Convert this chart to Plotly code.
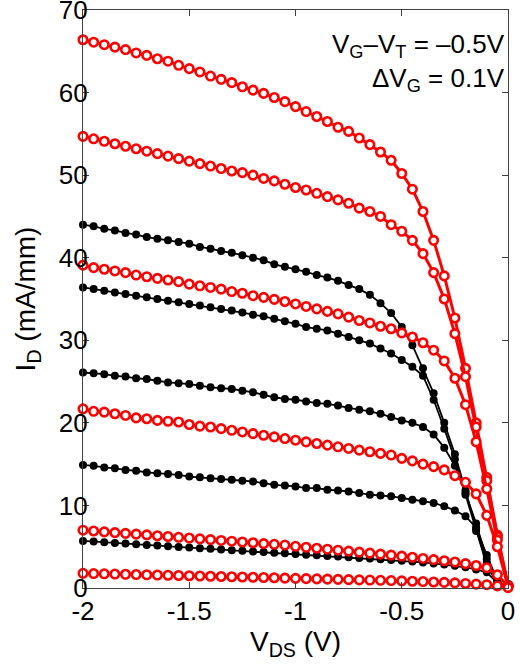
import plotly.graph_objects as go

# V_DS sweep (V): -2 to 0 in 0.05 V steps
vds = [-2.0, -1.95, -1.9, -1.85, -1.8, -1.75, -1.7, -1.65, -1.6, -1.55,
       -1.5, -1.45, -1.4, -1.35, -1.3, -1.25, -1.2, -1.15, -1.1, -1.05,
       -1.0, -0.95, -0.9, -0.85, -0.8, -0.75, -0.7, -0.65, -0.6, -0.55,
       -0.5, -0.45, -0.4, -0.35, -0.3, -0.25, -0.2, -0.15, -0.1, -0.05, 0.0]

# red curves (open markers), I_D in mA/mm
red_1 = [66.4, 66.1, 65.8, 65.5, 65.2, 64.8, 64.5, 64.1, 63.8, 63.3, 62.9, 62.5, 62.0, 61.6, 61.2, 60.7, 60.3,
         59.9, 59.4, 58.9, 58.3, 57.7, 57.1, 56.5, 55.8, 55.3, 54.5, 53.7, 52.8, 51.8, 50.2, 48.3,
         45.6, 42.1, 37.8, 32.7, 26.6, 20.0, 13.4, 6.4, 0.3]
red_2 = [54.7, 54.4, 54.1, 53.8, 53.5, 53.2, 52.9, 52.6, 52.3, 52.0, 51.7, 51.4, 51.1, 50.8, 50.5, 50.3, 50.0,
         49.6, 49.3, 48.9, 48.5, 48.2, 47.8, 47.4, 47.0, 46.6, 46.0, 45.6, 45.0, 44.0, 43.2, 42.1,
         40.5, 38.2, 35.0, 30.8, 25.6, 19.5, 13.0, 6.2, 0.3]
red_3 = [39.1, 38.8, 38.6, 38.4, 38.2, 37.9, 37.7, 37.5, 37.3, 37.1, 36.8, 36.6, 36.4, 36.2, 35.9, 35.7, 35.4,
         35.2, 34.96, 34.7, 34.4, 34.1, 33.8, 33.5, 33.2, 32.8, 32.4, 32.1,
         31.7, 31.4, 30.9, 30.4, 29.7, 28.8, 27.5, 25.4, 22.2, 17.7, 12.0, 5.8, 0.3]
red_4 = [21.7, 21.4, 21.3, 21.1, 20.9, 20.6, 20.5, 20.3, 20.2, 20.1, 19.8, 19.6, 19.5, 19.3, 19.1, 18.9, 18.7,
         18.5, 18.3, 18.1, 17.9, 17.7, 17.5, 17.3, 17.1, 16.9, 16.7, 16.5, 16.3, 16.1, 15.7, 15.4, 15.0,
         14.7, 14.3, 13.6, 12.8, 11.4, 8.8, 5.0, 0.2]
red_5 = [7.0, 6.9, 6.8, 6.71, 6.62, 6.52, 6.43, 6.33, 6.24, 6.14, 6.05, 5.95, 5.86, 5.76, 5.67, 5.57, 5.48, 5.38, 5.29,
         5.2, 5.05, 4.93, 4.81, 4.7, 4.58, 4.46, 4.34, 4.22, 4.1, 3.98, 3.86, 3.72, 3.58, 3.44, 3.3, 3.15, 2.95,
         2.72, 2.45, 1.6, 0.2]
red_6 = [1.78, 1.75, 1.72, 1.69, 1.66, 1.63, 1.6, 1.57, 1.54, 1.51, 1.48, 1.45, 1.42, 1.39, 1.36, 1.33, 1.3, 1.27,
         1.24, 1.2, 1.17, 1.14, 1.11, 1.08, 1.05, 1.02, 0.99, 0.96, 0.93, 0.9, 0.86, 0.82, 0.78, 0.73, 0.68, 0.62,
         0.55, 0.47, 0.4, 0.25, 0.05]

# black curves (filled markers)
black_1 = [44.0, 43.8, 43.5, 43.3, 43.0, 42.8, 42.5, 42.3, 42.1, 41.9, 41.7, 41.3, 41.1, 40.8, 40.6, 40.3, 40.0,
           39.7, 39.2, 38.9, 38.6, 38.3, 37.9, 37.6, 37.2, 36.7, 36.2, 35.5, 34.5, 33.3, 31.6, 29.4,
           26.6, 23.6, 20.0, 16.2, 11.8, 7.2, 3.0, 0.6, 0.0]
black_2 = [36.4, 36.2, 36.0, 35.8, 35.6, 35.4, 35.2, 35.0, 34.8, 34.6, 34.4, 34.2, 34.0, 33.8, 33.6, 33.35, 33.1,
           32.9, 32.6, 32.3, 32.0, 31.6, 31.4, 31.2, 30.8, 30.4, 30.0, 29.6, 29.0, 28.4, 27.6, 26.8,
           25.7, 22.8, 19.3, 15.6, 11.3, 6.9, 2.8, 0.5, 0.0]
black_3 = [26.1, 26.0, 25.9, 25.7, 25.6, 25.4, 25.3, 25.1, 24.9, 24.8, 24.7, 24.5, 24.3, 24.2, 24.1, 23.9, 23.7,
           23.4, 23.1, 22.9, 22.8, 22.6, 22.4, 22.3, 22.1, 21.8, 21.6, 21.4, 21.1, 20.7, 20.3, 20.0,
           19.5, 18.6, 17.0, 14.8, 11.5, 7.8, 3.5, 0.7, 0.0]
black_4 = [14.9, 14.8, 14.6, 14.5, 14.3, 14.2, 14.0, 13.9, 13.8, 13.7, 13.5, 13.4, 13.3, 13.2, 13.1, 13.0, 12.9,
           12.7, 12.5, 12.4, 12.3, 12.1, 12.1, 11.9, 11.8, 11.7, 11.5, 11.3, 11.2, 11.1, 10.9, 10.7,
           10.5, 10.3, 9.9, 9.4, 8.7, 7.3, 4.0, 0.9, 0.0]
black_5 = [5.7, 5.62, 5.54, 5.46, 5.38, 5.3, 5.22, 5.14, 5.06, 4.98, 4.9, 4.82, 4.74, 4.66, 4.58, 4.5, 4.42,
           4.35, 4.28, 4.2, 4.12, 4.04, 3.96, 3.88, 3.8, 3.72, 3.64, 3.56, 3.48, 3.4, 3.3, 3.2, 3.1, 2.98,
           2.85, 2.7, 2.5, 2.25, 1.9, 0.6, 0.0]

x_tickvals = [-2, -1.5, -1, -0.5, 0]
x_ticktext = ["-2", "-1.5", "-1", "-0.5", "0"]
y_tickvals = [0, 10, 20, 30, 40, 50, 60, 70]

FONT = "Arial, Liberation Sans, sans-serif"

fig = go.Figure()

for ys in [black_1, black_2, black_3, black_4, black_5]:
    fig.add_trace(go.Scatter(
        x=vds, y=ys, mode="lines+markers",
        line=dict(color="black", width=1.8),
        marker=dict(symbol="circle", size=8, color="black"),
        showlegend=False, cliponaxis=False))

for ys in [red_1, red_2, red_3, red_4, red_5, red_6]:
    fig.add_trace(go.Scatter(
        x=vds, y=ys, mode="lines+markers",
        line=dict(color="#ff0000", width=3),
        marker=dict(symbol="circle", size=8.5, color="white",
                    line=dict(color="#ff0000", width=2.6)),
        showlegend=False, cliponaxis=False))

axis_common = dict(
    showgrid=False, zeroline=False, showline=True, linecolor="#404040", linewidth=1.2,
    mirror="ticks", ticks="inside", ticklen=6, tickcolor="#404040", tickwidth=1.2,
    tickfont=dict(family=FONT, size=26, color="black"),
    ticklabeloverflow="allow",
)

fig.update_xaxes(range=[-2, 0], tickvals=x_tickvals, ticktext=x_ticktext,
                 title=dict(text="V<sub>DS</sub> (V)", font=dict(family=FONT, size=28, color="black"),
                            standoff=4),
                 **axis_common)
fig.update_yaxes(range=[0, 70], tickvals=y_tickvals, ticklabelstandoff=-11,
                 title=dict(text="I<sub>D</sub> (mA/mm)", font=dict(family=FONT, size=28, color="black"),
                            standoff=14),
                 **axis_common)

fig.add_annotation(xref="paper", yref="paper", x=0.998, y=0.939, xanchor="right", yanchor="middle",
                   text="V<sub>G</sub>–V<sub>T</sub> = –0.5V", showarrow=False,
                   font=dict(family=FONT, size=26, color="black"))
fig.add_annotation(xref="paper", yref="paper", x=0.998, y=0.879, xanchor="right", yanchor="middle",
                   text="ΔV<sub>G</sub> = 0.1V", showarrow=False,
                   font=dict(family=FONT, size=26, color="black"))

fig.update_layout(
    width=520, height=672,
    margin=dict(l=83, r=12, t=10, b=84, autoexpand=False),
    paper_bgcolor="white", plot_bgcolor="white",
    font=dict(family=FONT, color="black"),
)

fig.write_html("out.html", config={"displayModeBar": False},
               post_script="document.body.style.margin='0px';")
